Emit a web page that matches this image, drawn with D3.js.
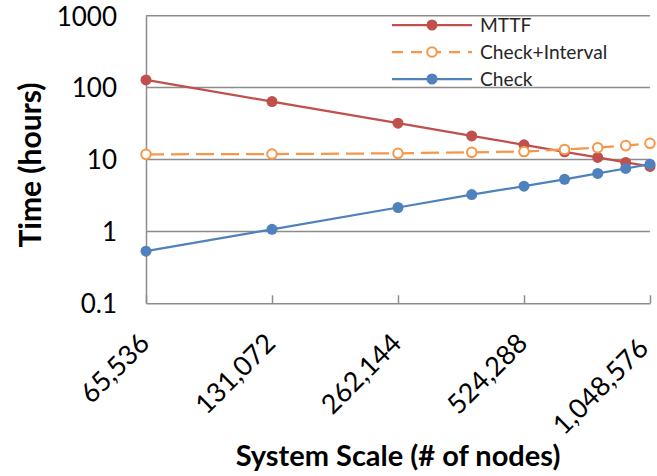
<!DOCTYPE html>
<html>
<head>
<meta charset="utf-8">
<script src="https://cdn.jsdelivr.net/npm/d3@7"></script>
<style>
  html, body { margin: 0; padding: 0; background: #fff; }
  svg { display: block; font-family: Lato, "Open Sans", sans-serif; }
</style>
</head>
<body>
<svg id="chart" width="657" height="476"></svg>
<script>
// System sizes (number of nodes)
const nodes = [65536, 131072, 262144, 393216, 524288, 655360, 786432, 917504, 1048576];
// Time in hours for each series
const mttf = [128, 64, 32, 21.3, 16, 12.8, 10.7, 9.1, 8.0];
const checkInterval = [11.8, 11.9, 12.2, 12.6, 12.9, 13.8, 14.6, 15.6, 16.8];
const check = [0.53, 1.07, 2.15, 3.25, 4.25, 5.3, 6.4, 7.5, 8.6];
// Axis ticks
const xTicks = [65536, 131072, 262144, 524288, 1048576];
const yTicks = [0.1, 1, 10, 100, 1000];

const series = [
  { name: "MTTF", values: mttf, color: "#C0504D", dash: null, open: false },
  { name: "Check+Interval", values: checkInterval, color: "#F79646", dash: "18,7", open: true },
  { name: "Check", values: check, color: "#4F81BD", dash: null, open: false }
];

const svg = d3.select("#chart");
const grid = "#8c8c8c";

const x = d3.scaleLog().base(2).domain([65536, 1048576]).range([146, 650]);
const y = d3.scaleLog().domain([0.1, 1000]).range([303.3, 15.7]);

// Horizontal gridlines
svg.append("g").selectAll("line")
  .data(yTicks.slice(1))
  .join("line")
  .attr("x1", x.range()[0]).attr("x2", x.range()[1])
  .attr("y1", d => y(d)).attr("y2", d => y(d))
  .attr("stroke", grid).attr("stroke-width", 1.5);

// Y axis
const yAxis = svg.append("g")
  .attr("transform", `translate(${x.range()[0]},0)`)
  .call(d3.axisLeft(y).tickValues(yTicks).tickFormat(d => String(d)).tickSize(0).tickPadding(29));
yAxis.select(".domain").attr("stroke", grid).attr("stroke-width", 1.5);
yAxis.selectAll("text")
  .attr("font-family", "Lato, sans-serif")
  .attr("font-size", 26)
  .attr("fill", "#000")
  .attr("dy", "0.36em");

// X axis with inward ticks; the last label is nudged back along its slant to stay inside
const xAxis = svg.append("g")
  .attr("transform", `translate(0,${y.range()[0]})`)
  .call(d3.axisBottom(x).tickValues(xTicks).tickFormat(d3.format(",")).tickSizeInner(-8).tickSizeOuter(0));
xAxis.select(".domain").attr("stroke", grid).attr("stroke-width", 1.5);
xAxis.selectAll(".tick line").attr("stroke", grid).attr("stroke-width", 1.5);
xAxis.selectAll("text")
  .attr("font-family", "Lato, sans-serif")
  .attr("font-size", 27)
  .attr("fill", "#000")
  .attr("text-anchor", "end")
  .attr("y", 0).attr("dy", "0.35em")
  .attr("transform", (d, i) => i === xTicks.length - 1
    ? "translate(-7,40) rotate(-45)"
    : "translate(-2,35) rotate(-45)");

// Series lines and markers
const line = d3.line().x((d, i) => x(nodes[i])).y(d => y(d));
series.forEach(s => {
  const g = svg.append("g");
  g.append("path")
    .datum(s.values)
    .attr("d", line)
    .attr("fill", "none")
    .attr("stroke", s.color)
    .attr("stroke-width", 2.25)
    .attr("stroke-dasharray", s.dash);
  g.selectAll("circle")
    .data(s.values)
    .join("circle")
    .attr("cx", (d, i) => x(nodes[i]))
    .attr("cy", d => y(d))
    .attr("r", s.open ? 4.8 : 5.5)
    .attr("fill", s.open ? "#fff" : s.color)
    .attr("stroke", s.color)
    .attr("stroke-width", s.open ? 2 : 0);
});

// Legend
const legend = svg.append("g");
series.forEach((s, i) => {
  const ly = 25 + i * 27;
  legend.append("line")
    .attr("x1", 392).attr("x2", 472)
    .attr("y1", ly).attr("y2", ly)
    .attr("stroke", s.color).attr("stroke-width", 2.25)
    .attr("stroke-dasharray", s.dash ? "11,8" : null);
  legend.append("circle")
    .attr("cx", 432).attr("cy", ly)
    .attr("r", s.open ? 4.8 : 5.5)
    .attr("fill", s.open ? "#fff" : s.color)
    .attr("stroke", s.color)
    .attr("stroke-width", s.open ? 2 : 0);
  legend.append("text")
    .attr("x", 480).attr("y", ly).attr("dy", "0.36em")
    .attr("font-size", 19.2).attr("fill", "#262626")
    .text(s.name);
});

// Axis titles
svg.append("text")
  .attr("x", 398).attr("y", 466)
  .attr("text-anchor", "middle")
  .attr("font-size", 29).attr("font-weight", "bold")
  .text("System Scale (# of nodes)");
svg.append("text")
  .attr("transform", "translate(41,165) rotate(-90)")
  .attr("text-anchor", "middle")
  .attr("font-size", 30).attr("font-weight", "bold")
  .text("Time (hours)");
</script>
</body>
</html>
